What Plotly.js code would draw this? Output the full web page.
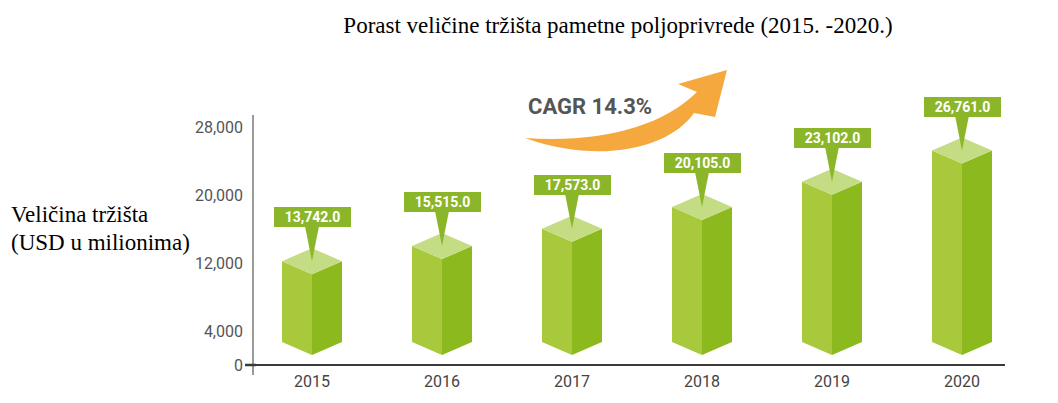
<!DOCTYPE html>
<html>
<head>
<meta charset="utf-8">
<script src="https://cdn.plot.ly/plotly-3.0.1.min.js"></script>
<style>
  html, body { margin: 0; padding: 0; background: #ffffff; }
  #chart { width: 1058px; height: 403px; }
</style>
</head>
<body>
<div id="chart"></div>
<script>
// ---- data ----
const years = ['2015', '2016', '2017', '2018', '2019', '2020'];
const marketSize = [13742.0, 15515.0, 17573.0, 20105.0, 23102.0, 26761.0];
const yTickVals = [0, 4000, 12000, 20000, 28000];
const yTickText = ['0', '4,000', '12,000', '20,000', '28,000'];
const chartTitle = 'Porast veličine tržišta pametne poljoprivrede (2015. -2020.)';
const yTitleLines = ['Veličina tržišta', '(USD u milionima)'];
const cagrText = 'CAGR 14.3%';

// ---- layout geometry (pixels) ----
const W = 1058, H = 403;
const M = { l: 253, r: 53, t: 85, b: 33 };
const plotW = W - M.l - M.r;   // 752
const plotH = H - M.t - M.b;   // 285
const pxPerUnitX = 130;        // pixels per category
const pxPer1000 = 8.5;         // pixels per 1000 USD
const x0px = 312 - M.l;        // first category centre, from plot left
const xRange = [-x0px / pxPerUnitX, (plotW - x0px) / pxPerUnitX];
const zeroFromBottom = 5;      // px between plot bottom and value 0
const yRange = [-zeroFromBottom / pxPer1000 * 1000, (plotH - zeroFromBottom) / pxPer1000 * 1000];
const pxToY = p => p / pxPer1000 * 1000;
const pxToX = p => p / pxPerUnitX;

// bar prism geometry
const halfW = pxToX(30);
const diamond = pxToY(13);
const baseY = pxToY(10);
const labelOffset = pxToY(31);
const boxHalfH = pxToY(10);
const pointerHalf = pxToX(7);

const colLeft = '#a8c93c';
const colRight = '#8cb91e';
const colTop = '#c4dc84';
const colLabel = '#8cb62a';

const traces = [];
const annotations = [];
const fmt = v => v.toLocaleString('en-US', { minimumFractionDigits: 1, maximumFractionDigits: 1 });

function poly(xs, ys, color) {
  traces.push({
    type: 'scatter', mode: 'lines', x: xs, y: ys,
    fill: 'toself', fillcolor: color, line: { width: 0, color: color },
    hoverinfo: 'skip', showlegend: false
  });
}

marketSize.forEach((v, i) => {
  // left face
  poly([i - halfW, i, i, i - halfW, i - halfW],
       [v - diamond, v - 2 * diamond, baseY, baseY + diamond, v - diamond], colLeft);
  // right face
  poly([i, i + halfW, i + halfW, i, i],
       [v - 2 * diamond, v - diamond, baseY + diamond, baseY, v - 2 * diamond], colRight);
  // top face
  poly([i, i + halfW, i, i - halfW, i],
       [v, v - diamond, v - 2 * diamond, v - diamond, v], colTop);
  // callout pointer
  const boxBottom = v + labelOffset - boxHalfH;
  poly([i - pointerHalf, i + pointerHalf, i, i - pointerHalf],
       [boxBottom + pxToY(1), boxBottom + pxToY(1), v - diamond, boxBottom + pxToY(1)], colLabel);
  // callout label
  annotations.push({
    x: i, y: v + labelOffset, xref: 'x', yref: 'y',
    text: '<b>' + fmt(v) + '</b>', showarrow: false,
    bgcolor: colLabel, bordercolor: colLabel, borderwidth: 0, borderpad: 3,
    width: 71, height: 14,
    font: { family: 'Roboto, Arial, sans-serif', size: 14, color: '#ffffff' },
    xanchor: 'center', yanchor: 'middle'
  });
});

// helpers for decoration in paper coordinates from pixel positions
const px = x => (x - M.l) / plotW;
const py = y => (H - M.b - y) / plotH;

// y axis title (two lines)
yTitleLines.forEach((t, k) => {
  annotations.push({
    xref: 'paper', yref: 'paper', x: px(9), y: py([214, 243][k]),
    xanchor: 'left', yanchor: 'middle', showarrow: false, text: t,
    font: { family: '"Liberation Serif", "Times New Roman", serif', size: 23, color: '#000000' }
  });
});

// CAGR text
annotations.push({
  xref: 'paper', yref: 'paper', x: px(590), y: py(106),
  xanchor: 'center', yanchor: 'middle', showarrow: false,
  text: '<b>' + cagrText + '</b>',
  font: { family: 'Roboto, Arial, sans-serif', size: 22, color: '#555555' }
});

// orange swoosh arrow (paper coords built from pixel positions)
const P = (x, y) => px(x).toFixed(4) + ',' + py(y).toFixed(4);
const arrowPath = 'M ' + P(525, 138) +
  ' C ' + P(600, 165) + ' ' + P(670, 148) + ' ' + P(694, 113) +
  ' L ' + P(715, 117) +
  ' L ' + P(727, 70) +
  ' L ' + P(678, 84) +
  ' L ' + P(697, 92) +
  ' C ' + P(662, 127) + ' ' + P(600, 143) + ' ' + P(525, 138) + ' Z';

const shapes = [
  {
    type: 'path', xref: 'paper', yref: 'paper', path: arrowPath,
    fillcolor: '#f5a83d', line: { width: 0 }, layer: 'above'
  },
  // y axis line
  {
    type: 'line', xref: 'paper', yref: 'paper', x0: 0, x1: 0, y0: py(375), y1: py(115),
    line: { color: '#9a9a9a', width: 2 }
  },
  // little extension of the zero line left of the y axis
  {
    type: 'line', xref: 'paper', yref: 'y', x0: px(245), x1: px(256), y0: 0, y1: 0,
    line: { color: '#3a3a3a', width: 2.5 }
  }
];

const layout = {
  width: W, height: H,
  margin: M,
  paper_bgcolor: '#ffffff', plot_bgcolor: '#ffffff',
  showlegend: false,
  title: {
    text: chartTitle,
    x: 618 / W, xanchor: 'center', xref: 'container',
    y: 1 - 25 / H, yanchor: 'middle', yref: 'container',
    font: { family: '"Liberation Serif", "Times New Roman", serif', size: 23, color: '#000000' }
  },
  xaxis: {
    range: xRange, fixedrange: true,
    tickmode: 'array', tickvals: years.map((_, i) => i), ticktext: years,
    showgrid: false, zeroline: false, showline: false, ticks: '',
    ticklabelstandoff: 0,
    tickfont: { family: 'Roboto, Arial, sans-serif', size: 16, color: '#444444' }
  },
  yaxis: {
    range: yRange, fixedrange: true,
    tickmode: 'array', tickvals: yTickVals, ticktext: yTickText,
    showgrid: false, ticks: '',
    zeroline: true, zerolinecolor: '#3a3a3a', zerolinewidth: 2.5,
    showline: false,
    ticklabelstandoff: 9,
    tickfont: { family: 'Roboto, Arial, sans-serif', size: 16, color: '#555555' }
  },
  shapes: shapes,
  annotations: annotations
};

Plotly.newPlot('chart', traces, layout, { displayModeBar: false, staticPlot: true });
</script>
</body>
</html>
